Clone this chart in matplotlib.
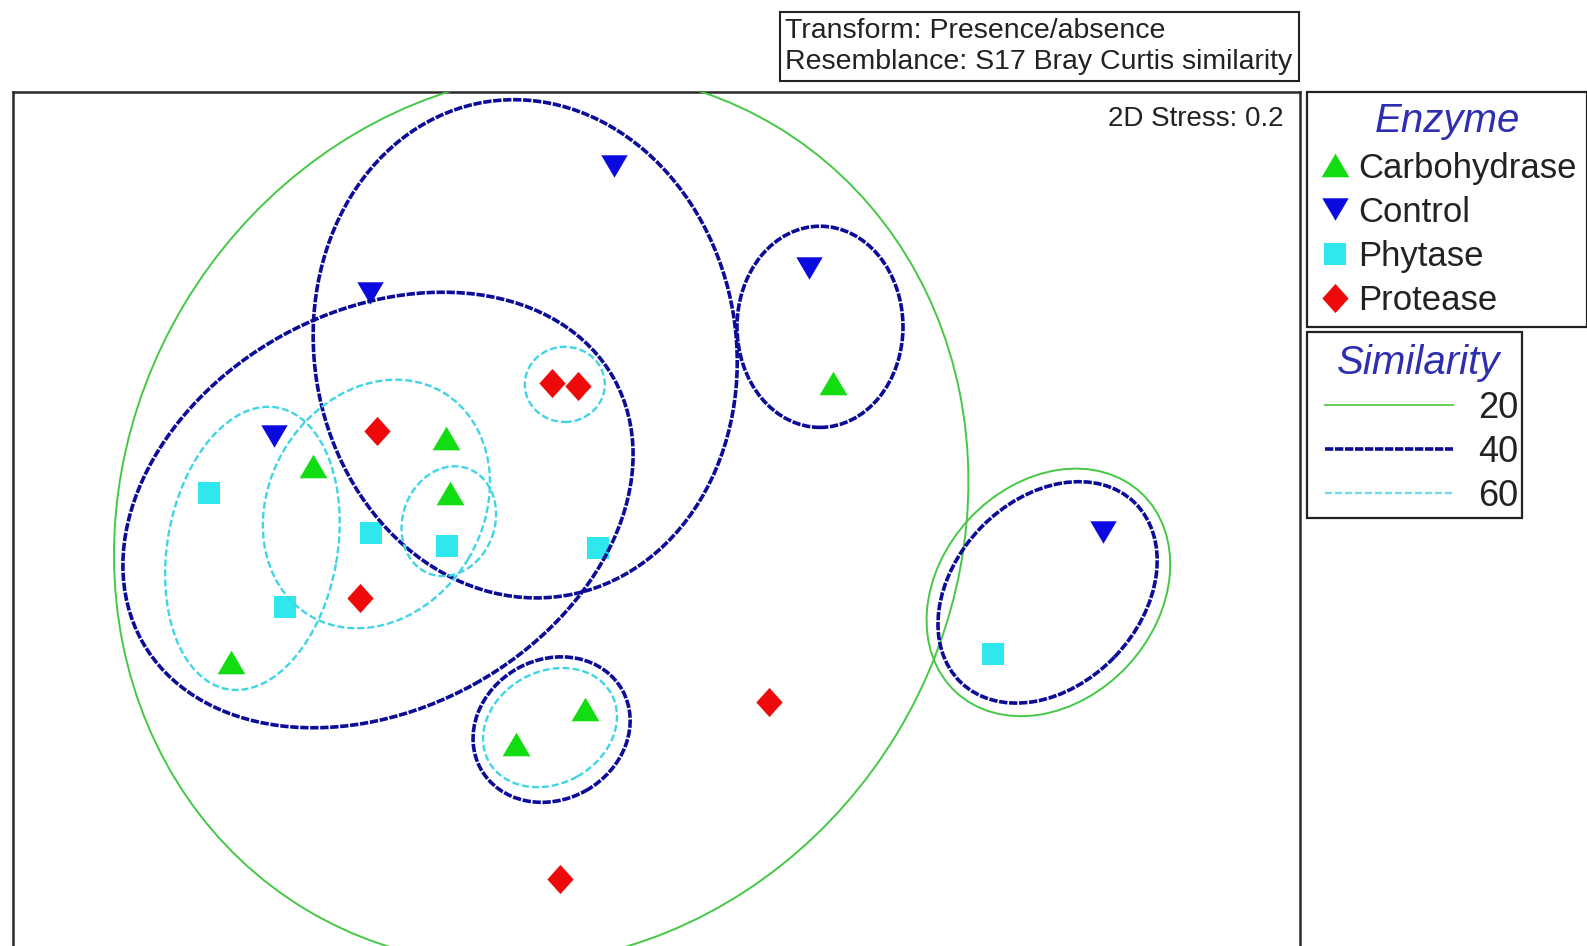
import matplotlib
matplotlib.use("Agg")
import matplotlib.pyplot as plt
from matplotlib.patches import Ellipse, Rectangle
from matplotlib.lines import Line2D
from matplotlib.legend_handler import HandlerLine2D

plt.rcParams["font.family"] = ["Liberation Sans", "DejaVu Sans"]
plt.rcParams["lines.scale_dashes"] = False

# nMDS ordination coordinates for each enzyme treatment
carb_x = [-0.843, -0.510, -0.500, -1.048, 0.458, -0.163, -0.335]
carb_y = [0.135, 0.205, 0.068, -0.355, 0.343, -0.473, -0.560]
ctrl_x = [-0.090, -0.700, -0.940, 0.398, 1.133]
ctrl_y = [0.885, 0.568, 0.210, 0.630, -0.030]
phyt_x = [-1.103, -0.698, -0.508, -0.913, -0.130, 0.858]
phyt_y = [0.068, -0.033, -0.065, -0.218, -0.070, -0.335]
prot_x = [-0.683, -0.245, -0.180, -0.725, 0.298, -0.225]
prot_y = [0.223, 0.343, 0.335, -0.195, -0.455, -0.898]

group_names = ["Carbohydrase", "Control", "Phytase", "Protease"]

# cluster similarity contours (ellipse approximations)
contour_level = [20, 20, 40, 40, 40, 40, 40, 60, 60, 60, 60, 60]
contour_x = [-0.272, 0.996, -0.312, -0.680, 0.425, -0.246, 0.994, -0.994, -0.684, -0.503, -0.213, -0.250]
contour_y = [0.005, -0.181, 0.428, 0.025, 0.483, -0.524, -0.181, -0.071, 0.040, -0.003, 0.339, -0.519]
contour_w = [2.284, 0.680, 1.055, 1.350, 0.415, 0.405, 0.625, 0.715, 0.650, 0.280, 0.200, 0.350]
contour_h = [2.080, 0.540, 1.250, 0.995, 0.503, 0.350, 0.465, 0.425, 0.535, 0.230, 0.188, 0.280]
contour_angle = [59, 47, 9, 29, 0, 29, 46, 80, 59, 70, 0, 29]

similarity_levels = [20, 40, 60]
stress = 0.2

# styles
level_style = {
    20: dict(color="#45c845", lw=1.4, ls="-"),
    40: dict(color="#0c0c98", lw=2.6, ls=(0, (6, 1.2))),
    60: dict(color="#3fd5e4", lw=1.7, ls=(0, (5, 2.2))),
}
legend_line_color = {20: "#66cc55", 40: "#0c0c98", 60: "#6cdde6"}

tri_up = [(-1, -0.85), (1, -0.85), (0, 0.85)]
tri_down = [(-1, 0.85), (1, 0.85), (0, -0.85)]
square = [(-1, -1), (1, -1), (1, 1), (-1, 1)]
diamond = [(0, 1), (0.9, 0), (0, -1), (-0.9, 0)]

group_style = [
    dict(marker=tri_up, color="#12dd12", ms=20),
    dict(marker=tri_down, color="#0a0ae0", ms=19),
    dict(marker=square, color="#2ee8ee", ms=15.5),
    dict(marker=diamond, color="#ee0a0a", ms=21),
]
group_xy = [(carb_x, carb_y), (ctrl_x, ctrl_y), (phyt_x, phyt_y), (prot_x, prot_y)]

W, H = 1587, 946
fig = plt.figure(figsize=(W / 100, H / 100), dpi=100)
fig.patch.set_facecolor("white")

ax = fig.add_axes([13 / W, (H - 960) / H, 1287 / W, 868 / H])
ax.set_xlim(-1.5925, 1.625)
ax.set_ylim(-1.10, 1.07)
ax.set_xticks([])
ax.set_yticks([])
for sp in ax.spines.values():
    sp.set_color("#2a2a2a")
    sp.set_linewidth(1.8)

for (xs, ys), st in zip(group_xy, group_style):
    ax.plot(xs, ys, linestyle="none", marker=st["marker"], color=st["color"],
            markersize=st["ms"], markeredgewidth=0, zorder=2)

for lev, cx, cy, w, h, a in zip(contour_level, contour_x, contour_y, contour_w, contour_h, contour_angle):
    st = level_style[lev]
    ax.add_patch(Ellipse((cx, cy), w, h, angle=a, fill=False, edgecolor=st["color"],
                         linewidth=st["lw"], linestyle=st["ls"], zorder=3))

ax.text(0.987, 0.969, f"2D Stress: {stress}", transform=ax.transAxes, ha="right", va="center",
        fontsize=20, color="#222222")

# header box with transform / resemblance info
fig.add_artist(Rectangle((780 / W, 1 - 81 / H), 519 / W, 69 / H, transform=fig.transFigure,
                         facecolor="white", edgecolor="#222222", linewidth=1.5))
fig.text(785 / W, 1 - 31 / H, "Transform: Presence/absence", ha="left", va="center",
         fontsize=20.5, color="#222222")
fig.text(785 / W, 1 - 62 / H, "Resemblance: S17 Bray Curtis similarity", ha="left", va="center",
         fontsize=20.5, color="#222222")

# enzyme legend
enz_handles = [Line2D([], [], linestyle="none", marker=st["marker"], color=st["color"],
                      markersize=st["ms"], markeredgewidth=0) for st in group_style]
leg1 = fig.legend(enz_handles, group_names, loc="upper left",
                  bbox_to_anchor=(1307 / W, 1 - 92 / H), bbox_transform=fig.transFigure,
                  title="Enzyme", title_fontproperties={"style": "italic", "size": 29},
                  fontsize=25, frameon=True, fancybox=False, edgecolor="#222222",
                  borderpad=0.3, handlelength=1.0, handletextpad=0.17, labelspacing=0.32,
                  borderaxespad=0, framealpha=1)
leg1.get_title().set_color("#2e2eb0")
leg1.get_frame().set_linewidth(1.6)
for t in leg1.get_texts():
    t.set_color("#222222")

# similarity legend (frame drawn separately for a tight right edge)
fig.add_artist(Rectangle((1307 / W, 1 - 518 / H), 215 / W, 186 / H, transform=fig.transFigure,
                         facecolor="white", edgecolor="#222222", linewidth=1.6))
sim_handles = [Line2D([], [], color=legend_line_color[l], linewidth=level_style[l]["lw"],
                      linestyle=level_style[l]["ls"]) for l in similarity_levels]
leg2 = fig.legend(sim_handles, [str(l) for l in similarity_levels], loc="upper left",
                  bbox_to_anchor=(1307 / W, 1 - 332 / H), bbox_transform=fig.transFigure,
                  title="Similarity", title_fontproperties={"style": "italic", "size": 29},
                  fontsize=26, frameon=False,
                  borderpad=0.33, handlelength=3.72, handletextpad=0.7, labelspacing=0.25,
                  borderaxespad=0,
                  handler_map={Line2D: HandlerLine2D(xpad=0.17)})
leg2.get_title().set_color("#2e2eb0")
for t in leg2.get_texts():
    t.set_color("#222222")

fig.savefig("out.png", dpi=100, facecolor="white")
